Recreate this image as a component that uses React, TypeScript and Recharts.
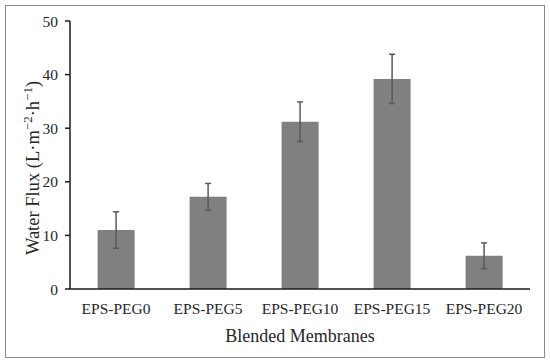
import React from 'react';
import { BarChart, Bar, XAxis, YAxis, ErrorBar, Label } from 'recharts';

const membranes = ['EPS-PEG0', 'EPS-PEG5', 'EPS-PEG10', 'EPS-PEG15', 'EPS-PEG20'];
const fluxValues = [11.0, 17.2, 31.2, 39.2, 6.2];
const fluxErrors = [3.4, 2.5, 3.7, 4.6, 2.4];
const yTicks = [0, 10, 20, 30, 40, 50];

const data = membranes.map((name, i) => ({ name, flux: fluxValues[i], err: fluxErrors[i] }));

const FONT = '"Liberation Serif", "Times New Roman", serif';

const YTitle = (props: any) => {
  const { viewBox } = props;
  const cx = viewBox.x + 3;
  const cy = viewBox.y + viewBox.height / 2 + 13;
  return (
    <text
      x={cx}
      y={cy}
      transform={`rotate(-90, ${cx}, ${cy})`}
      textAnchor="middle"
      dominantBaseline="central"
      fontFamily={FONT}
      fontSize={18.5}
      fill="#262626"
    >
      Water Flux (L·m
      <tspan dy={-6} fontSize={13}>−2</tspan>
      <tspan dy={6}>·h</tspan>
      <tspan dy={-6} fontSize={13}>−1</tspan>
      <tspan dy={6}>)</tspan>
    </text>
  );
};

const App: React.FC = () => {
  return (
    <div style={{ position: 'absolute', left: 0, top: 0, width: 550, height: 362, background: '#fff' }}>
      <div
        style={{
          position: 'absolute',
          left: 5,
          top: 5,
          width: 538,
          height: 351,
          border: '1px solid #8a8a8a',
        }}
      />
      <div style={{ position: 'absolute', left: 0, top: 0 }}>
        <BarChart
          width={550}
          height={362}
          data={data}
          margin={{ top: 21, right: 20, left: 30, bottom: 43 }}
          barCategoryGap="30%"
        >
          <XAxis
            dataKey="name"
            axisLine={{ stroke: '#1a1a1a', strokeWidth: 1.5 }}
            tickLine={false}
            height={30}
            tick={{ fontFamily: FONT, fontSize: 15.5, fill: '#262626' }}
            tickMargin={8}
          >
            <Label
              value="Blended Membranes"
              position="bottom"
              offset={10}
              style={{ fontFamily: FONT, fontSize: 18, fill: '#262626' }}
            />
          </XAxis>
          <YAxis
            width={40}
            domain={[0, 50]}
            ticks={yTicks}
            interval={0}
            axisLine={{ stroke: '#1a1a1a', strokeWidth: 1.5 }}
            tickLine={{ stroke: '#1a1a1a', strokeWidth: 1.5 }}
            tickSize={5}
            tickMargin={7}
            tick={{ fontFamily: FONT, fontSize: 15.5, fill: '#262626' }}
          >
            <Label content={<YTitle />} />
          </YAxis>
          <Bar dataKey="flux" fill="#808080" isAnimationActive={false}>
            <ErrorBar dataKey="err" width={3} stroke="#595959" strokeWidth={1.5} isAnimationActive={false} />
          </Bar>
        </BarChart>
      </div>
    </div>
  );
};

export default App;
